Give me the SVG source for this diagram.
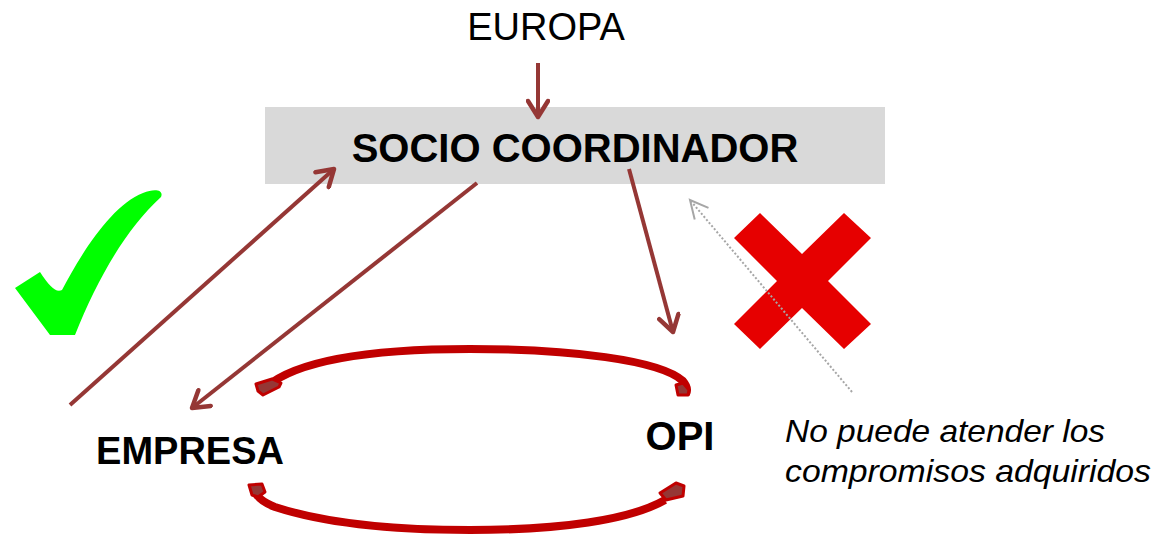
<svg xmlns="http://www.w3.org/2000/svg" width="1159" height="536" viewBox="0 0 1159 536">
<style>
.t{font-family:"Liberation Sans",Arial,sans-serif;fill:#000}
.b{font-weight:bold}
.arr{stroke:#953735;stroke-width:4;fill:none}
.loop{stroke:#c00000;stroke-width:8;fill:none;stroke-linecap:butt}
.end{fill:#953735;stroke:#c00000;stroke-width:3;stroke-linejoin:round}
</style>
<defs>
<marker id="ah" markerUnits="userSpaceOnUse" viewBox="-20 -12 24 24" markerWidth="24" markerHeight="24" refX="0" refY="0" orient="auto">
<path d="M -16 -10 L 0 0 L -16 10" fill="none" stroke="#953735" stroke-width="4.5" stroke-linecap="round" stroke-linejoin="round"/>
</marker>
<marker id="gh" markerUnits="userSpaceOnUse" viewBox="-20 -12 24 24" markerWidth="24" markerHeight="24" refX="0" refY="0" orient="auto">
<path d="M -18 -9 L 0 0 L -18 9" fill="none" stroke="#a6a6a6" stroke-width="2"/>
</marker>
</defs>
<rect width="1159" height="536" fill="#fff"/>
<g id="europa"><text class="t" x="546" y="40" font-size="38" text-anchor="middle">EUROPA</text></g>
<g id="socio">
<rect x="265" y="107" width="620" height="77" fill="#d9d9d9"/>
<text class="t b" x="575" y="162" font-size="40" text-anchor="middle">SOCIO COORDINADOR</text>
</g>
<g id="empresa"><text class="t b" x="190" y="464" font-size="38" text-anchor="middle">EMPRESA</text></g>
<g id="opi"><text class="t b" x="680" y="450" font-size="40" text-anchor="middle">OPI</text></g>
<g id="nota">
<text class="t" font-style="italic" font-size="32" x="785" y="442" textLength="320" lengthAdjust="spacingAndGlyphs">No puede atender los</text>
<text class="t" font-style="italic" font-size="32" x="785" y="482" textLength="366" lengthAdjust="spacingAndGlyphs">compromisos adquiridos</text>
</g>
<g id="check"><path d="M 15 288 L 40 272 C 50 287 56 293 62 290 C 82 252 112 205 143 193 C 155 188 164 190 161 197 C 125 230 97 280 75 335 L 50 335 Z" fill="#00ff00"/></g>
<g id="cross"><polygon points="760,213 802,254 844,213 871,238 828,281 871,324 844,349 802,308 760,349 734,324 777,281 734,238" fill="#e60000"/></g>
<g id="connectors">
<line class="arr" x1="538" y1="63" x2="538" y2="117" marker-end="url(#ah)"/>
<line class="arr" x1="70" y1="405" x2="334" y2="169" marker-end="url(#ah)"/>
<line class="arr" x1="477" y1="183" x2="192" y2="408" marker-end="url(#ah)"/>
<line class="arr" x1="629" y1="169" x2="673" y2="332" marker-end="url(#ah)"/>
<line x1="852" y1="392" x2="690" y2="200" stroke="#a6a6a6" stroke-width="2" stroke-dasharray="2 2" marker-end="url(#gh)"/>
<path class="loop" d="M 266 387 C 300 358 380 349 470 349 C 570 349 660 360 683 381 Q 689 388 686 394"/>
<polygon class="end" points="256,384 272,379 281,383 279,387 263,395 258,391"/>
<polygon class="end" points="676,385 683,383 689,390 688,395 678,395"/>
<path class="loop" d="M 254 488 Q 256 500 275 507 C 330 525 400 530 470 530 C 560 530 630 520 665 500"/>
<polygon class="end" points="249,485 262,484 265,492 258,497 252,495"/>
<polygon class="end" points="660,493 676,483 684,486 683,496 666,500"/>
</g>
</svg>
